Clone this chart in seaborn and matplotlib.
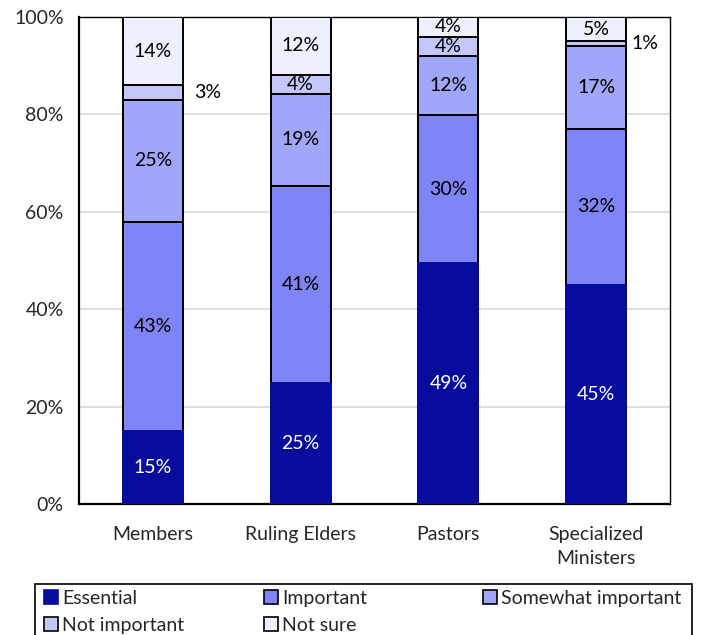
import matplotlib
matplotlib.use("Agg")
from matplotlib import pyplot as plt
from matplotlib.patches import Patch, Rectangle
from matplotlib.ticker import PercentFormatter, FixedLocator
import seaborn as sns
import pandas as pd
import numpy as np

# data (percent of respondents)
groups = ["Members", "Ruling Elders", "Pastors", "Specialized\nMinisters"]
essential = [15, 25, 49, 45]
important = [43, 41, 30, 32]
somewhat_important = [25, 19, 12, 17]
not_important = [3, 4, 4, 1]
not_sure = [14, 12, 4, 5]

levels = ["Essential", "Important", "Somewhat important", "Not important", "Not sure"]
colors = ["#060C9C", "#7F85F8", "#A0A6F8", "#C4C7FA", "#EEF0FD"]
text_colors = ["white", "black", "black", "black", "black"]

df = pd.DataFrame(
    [essential, important, somewhat_important, not_important, not_sure],
    index=levels, columns=groups,
)
# 100% stacked: normalise each column to its total
share = df / df.sum() * 100
tops = share.cumsum()
bottoms = tops - share

sns.set_style("white")
plt.rcParams["font.family"] = ["Lato", "DejaVu Sans"]
FS = 14

W, H = 701, 635
fig = plt.figure(figsize=(W / 100, H / 100), dpi=100)
ax = fig.add_axes([79 / W, 1 - 504 / H, 591 / W, 487 / H])

# draw cumulative tops from the top layer down, each covering the one below
for i in reversed(range(len(levels))):
    d = pd.DataFrame({"group": groups, "top": tops.iloc[i].values})
    edge = "black" if i > 0 else colors[0]
    sns.barplot(data=d, x="group", y="top", color=colors[i], width=0.405,
                edgecolor=edge, linewidth=1.4, saturation=1, ax=ax, zorder=3)

# segment labels
outside = {("Not important", "Members"): 0.28, ("Not important", "Specialized\nMinisters"): 0.24}
for i, lev in enumerate(levels):
    for j, g in enumerate(groups):
        y = bottoms.loc[lev, g] + share.loc[lev, g] / 2
        txt = f"{df.loc[lev, g]}%"
        if (lev, g) in outside:
            ax.text(j + outside[(lev, g)], y, txt, ha="left", va="center",
                    fontsize=FS, color="black", zorder=5)
        else:
            ax.text(j, y, txt, ha="center", va="center", fontsize=FS,
                    color=text_colors[i], zorder=5)

ax.set_ylim(0, 100)
ax.set_xlim(-0.5, 3.5)
ax.yaxis.set_major_locator(FixedLocator([0, 20, 40, 60, 80, 100]))
ax.yaxis.set_major_formatter(PercentFormatter(decimals=0))
ax.grid(axis="y", color="#D9D9D9", linewidth=1.2, zorder=0)
ax.set_axisbelow(True)
ax.set_xlabel("")
ax.set_ylabel("")
ax.xaxis.set_minor_locator(FixedLocator([-0.5, 0.5, 1.5, 2.5, 3.5]))
ax.tick_params(axis="x", which="major", length=0, pad=16, labelsize=FS)
ax.tick_params(axis="x", which="minor", length=6, width=1.2, direction="out", color="black")
ax.tick_params(axis="y", length=6, width=1.2, direction="out", color="black", labelsize=FS, pad=5)
for lab in ax.get_xticklabels():
    lab.set_linespacing(1.45)
for s in ax.spines.values():
    s.set_visible(True)
    s.set_color("black")
    s.set_linewidth(1.0)
ax.spines["left"].set_linewidth(1.6)
ax.spines["bottom"].set_linewidth(1.6)

# legend: three equal-width columns inside one frame, filled row by row
handles = [Patch(facecolor=c, edgecolor="black" if k > 0 else c, linewidth=1.2, label=l)
           for k, (c, l) in enumerate(zip(colors, levels))]
columns = [[0, 3], [1, 4], [2]]
col_x = [44, 264, 483]
for xs, idx in zip(col_x, columns):
    fig.legend([handles[k] for k in idx], [levels[k] for k in idx],
               loc="upper left", bbox_to_anchor=(xs / W, 1 - 590 / H),
               frameon=False, fontsize=FS, handlelength=0.7, handleheight=0.7,
               handletextpad=0.25, borderpad=0, labelspacing=0.5, borderaxespad=0)
fig.patches.append(Rectangle((35 / W, 1 - 645 / H), 657 / W, 61 / H,
                             transform=fig.transFigure, fill=False,
                             edgecolor="black", linewidth=1.2, clip_on=False))

fig.savefig("out.png", dpi=100)
